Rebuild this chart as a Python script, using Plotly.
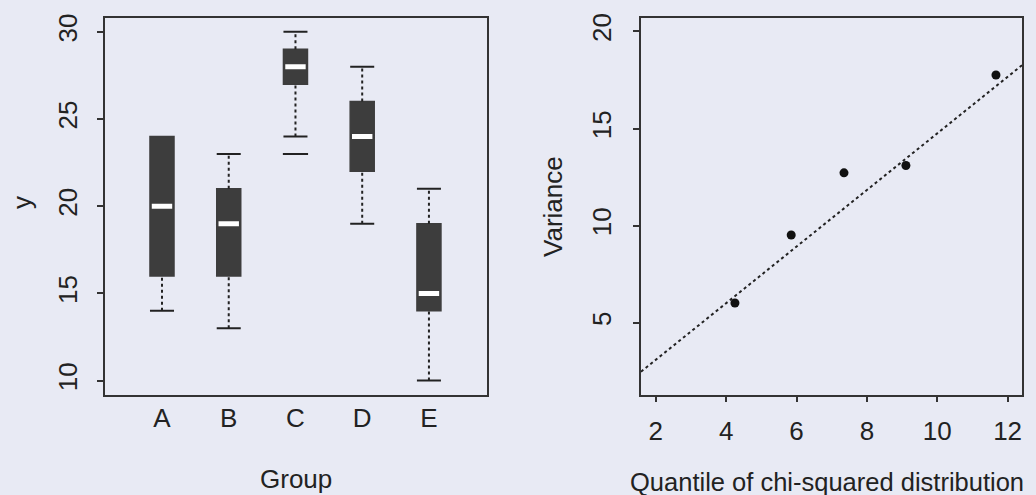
import plotly.graph_objects as go

# ---- data: left panel (box plot summary per group) ----
groups = ["A", "B", "C", "D", "E"]
positions = [1, 2, 3, 4, 5]
lower_whisker = [14, 13, 24, 19, 10]
q1 = [16, 16, 27, 22, 14]
median = [20, 19, 28, 24, 15]
q3 = [24, 21, 29, 26, 19]
upper_whisker = [24, 23, 30, 28, 21]
outlier_group_pos = [3]
outlier_values = [23]

# ---- data: right panel (variance vs chi-squared quantile) ----
chisq_quantile = [4.25, 5.85, 7.35, 9.11, 11.67]
variance = [6.02, 9.52, 12.72, 13.10, 17.76]
line_intercept = 0.18
line_slope = 1.457

left_yticks = [10, 15, 20, 25, 30]
right_xticks = [2, 4, 6, 8, 10, 12]
right_yticks = [5, 10, 15, 20]

BG = "#e8eaf4"
INK = "#222222"
BOXC = "#3d3d3d"
FONT = "Liberation Sans, Arial, Helvetica, sans-serif"
FS = 26
half_w = 0.18

fig = go.Figure()

# boxes
fig.add_trace(go.Box(
    x=positions, q1=q1, median=median, q3=q3,
    lowerfence=q1, upperfence=q3,
    width=2 * half_w, fillcolor=BOXC, boxpoints=False,
    line=dict(color=BOXC, width=1.5), whiskerwidth=0,
    xaxis="x", yaxis="y", showlegend=False, hoverinfo="skip",
))

# whiskers (dotted)
wx, wy = [], []
for p, lo, a, b, hi in zip(positions, lower_whisker, q1, q3, upper_whisker):
    if lo < a:
        wx += [p, p, None]
        wy += [lo, a, None]
    if hi > b:
        wx += [p, p, None]
        wy += [b, hi, None]
fig.add_trace(go.Scatter(x=wx, y=wy, mode="lines", xaxis="x", yaxis="y",
                         line=dict(color=INK, width=2, dash="dot"),
                         showlegend=False, hoverinfo="skip"))

# staples
sx, sy = [], []
for p, lo, a, b, hi in zip(positions, lower_whisker, q1, q3, upper_whisker):
    if lo < a:
        sx += [p - half_w, p + half_w, None]
        sy += [lo, lo, None]
    if hi > b:
        sx += [p - half_w, p + half_w, None]
        sy += [hi, hi, None]
fig.add_trace(go.Scatter(x=sx, y=sy, mode="lines", xaxis="x", yaxis="y",
                         line=dict(color=INK, width=2),
                         showlegend=False, hoverinfo="skip"))

# medians (white)
mx, my = [], []
for p, m in zip(positions, median):
    mx += [p - half_w * 0.85, p + half_w * 0.85, None]
    my += [m, m, None]
fig.add_trace(go.Scatter(x=mx, y=my, mode="lines", xaxis="x", yaxis="y",
                         line=dict(color="white", width=5),
                         showlegend=False, hoverinfo="skip"))

# outlier
fig.add_trace(go.Scatter(x=outlier_group_pos, y=outlier_values, mode="markers",
                         xaxis="x", yaxis="y",
                         marker=dict(symbol="line-ew", size=18,
                                     line=dict(color=INK, width=2)),
                         showlegend=False, hoverinfo="skip"))

# right panel
rx_range = [1.58, 12.41]
fig.add_trace(go.Scatter(
    x=rx_range, y=[line_intercept + line_slope * v for v in rx_range],
    mode="lines", xaxis="x2", yaxis="y2",
    line=dict(color=INK, width=2, dash="dot"),
    showlegend=False, hoverinfo="skip"))
fig.add_trace(go.Scatter(
    x=chisq_quantile, y=variance, mode="markers", xaxis="x2", yaxis="y2",
    marker=dict(color="#111111", size=9), showlegend=False))

axis_common = dict(showline=True, linecolor="#333333", linewidth=1.5, mirror=True,
                   showgrid=False, zeroline=False,
                   tickfont=dict(family=FONT, size=FS, color=INK))

fig.update_layout(
    width=1036, height=495,
    margin=dict(l=0, r=0, t=0, b=0),
    paper_bgcolor=BG, plot_bgcolor=BG,
    font=dict(family=FONT, size=FS, color=INK),
    xaxis=dict(domain=[105 / 1036, 487 / 1036], range=[0.146, 5.87],
               tickvals=positions, ticktext=groups, ticks="",
               ticklabelstandoff=0, anchor="y", **axis_common),
    yaxis=dict(domain=[1 - 393.5 / 495, 1 - 13 / 495], range=[9.2, 30.8],
               tickvals=left_yticks, ticks="outside", ticklen=6, tickwidth=1.5,
               tickcolor="#333333", tickangle=-90, ticklabelstandoff=10,
               anchor="x", **axis_common),
    xaxis2=dict(domain=[641 / 1036, 1022 / 1036], range=rx_range,
                tickvals=right_xticks, ticks="outside", ticklen=5, tickwidth=1.5,
                tickcolor="#333333", ticklabelstandoff=7, anchor="y2",
                **axis_common),
    yaxis2=dict(domain=[1 - 394 / 495, 1 - 13 / 495], range=[1.28, 20.70],
                tickvals=right_yticks, ticks="outside", ticklen=6, tickwidth=1.5,
                tickcolor="#333333", tickangle=-90, ticklabelstandoff=12,
                anchor="x2", **axis_common),
    annotations=[
        dict(text="Group", xref="paper", yref="paper", x=296 / 1036, y=1 - 479 / 495,
             xanchor="center", yanchor="middle", showarrow=False,
             font=dict(family=FONT, size=FS, color=INK)),
        dict(text="Quantile of chi-squared distribution", xref="paper", yref="paper",
             x=827 / 1036, y=1 - 482 / 495, xanchor="center", yanchor="middle",
             showarrow=False, font=dict(family=FONT, size=25.5, color=INK)),
        dict(text="y", xref="paper", yref="paper", x=22 / 1036, y=1 - 200 / 495,
             xanchor="center", yanchor="middle", textangle=-90, showarrow=False,
             font=dict(family=FONT, size=FS, color=INK)),
        dict(text="Variance", xref="paper", yref="paper", x=553 / 1036, y=1 - 204 / 495,
             xanchor="center", yanchor="middle", textangle=-90, showarrow=False,
             font=dict(family=FONT, size=FS, color=INK)),
    ],
)

fig.write_html("out.html", config={"displayModeBar": False},
               post_script="document.body.style.margin='0';document.body.style.overflow='hidden';")
